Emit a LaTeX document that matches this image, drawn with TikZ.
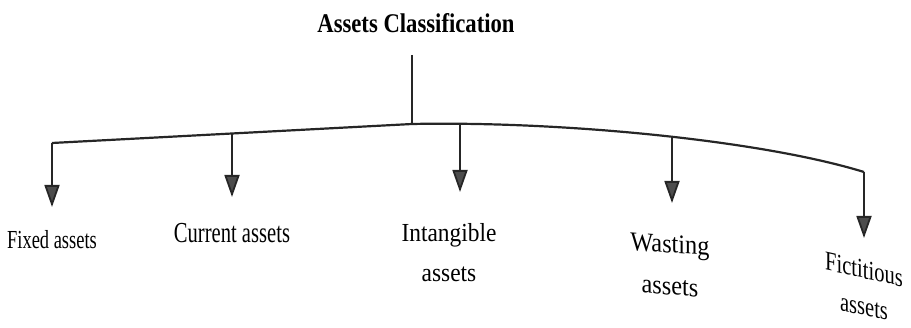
\documentclass[tikz,border=0pt]{standalone}
\usepackage{fontspec}
\usepackage{graphicx}
\setmainfont{Liberation Serif}
\newfontfamily\headfont{Liberation Serif}[FakeStretch=0.84]
\newfontfamily\narrowfont{Liberation Serif}[FakeStretch=0.71]
\newfontfamily\widefont{Liberation Serif}[FakeStretch=0.9]
\usetikzlibrary{arrows.meta}
% horizontally condensed text for slanted labels
\newcommand{\squeeze}[2]{\scalebox{#1}[1]{#2}}

\begin{document}
\begin{tikzpicture}[x=1pt,y=-1pt,
  link/.style={line width=2.2pt, draw=black!85},
  branch/.style={line width=1.8pt, draw=black!85,
    -{Triangle[width=15pt,length=22pt,fill=black!70]}},
  heading/.style={font=\headfont\bfseries\fontsize{27}{30}\selectfont, inner sep=0pt},
  leaf/.style={inner sep=0pt, align=center},
]
\useasboundingbox (0,0) rectangle (911,328);

% title and stem
\node[heading] (root) at (416,23) {Assets Classification};
\coordinate (s0) at (412,55);

% points on the curved bar
\coordinate (b1) at (52,143);
\coordinate (b2) at (232,133.5);
\coordinate (b0) at (412,124);
\coordinate (b3) at (460,124);
\coordinate (b4) at (672,137);
\coordinate (b5) at (864,172);

% arrow tips
\coordinate (t1) at (52,207);
\coordinate (t2) at (232,197);
\coordinate (t3) at (460,192);
\coordinate (t4) at (672,203);
\coordinate (t5) at (864,238);

% class labels
\node[leaf, font=\narrowfont\fontsize{26}{28}\selectfont] (fixed) at (52,239.5) {Fixed assets};
\node[leaf, font=\narrowfont\fontsize{29}{30}\selectfont] (current) at (232,233) {Current assets};
\node[leaf, font=\widefont\fontsize{26}{40}\selectfont] (intangible) at (449,253) {Intangible\\assets};
\node[leaf, font=\fontsize{27}{42}\selectfont, transform shape, yslant=-0.07] (wasting) at (670,265)
  {\squeeze{0.9}{Wasting}\\\squeeze{0.9}{assets}};
\node[leaf, font=\fontsize{27}{37}\selectfont, transform shape, yslant=-0.22] (fictitious) at (864,288)
  {\squeeze{0.76}{Fictitious}\\\squeeze{0.76}{assets}};

% connectors
\draw[link] (s0) -- (b0);
\draw[link] (b1) -- (b2) -- (b0) .. controls (560,121) and (760,140) .. (b5);
\draw[branch] (b1) -- (t1);
\draw[branch] (b2) -- (t2);
\draw[branch] (b3) -- (t3);
\draw[branch] (b4) -- (t4);
\draw[branch] (b5) -- (t5);
\end{tikzpicture}
\end{document}
